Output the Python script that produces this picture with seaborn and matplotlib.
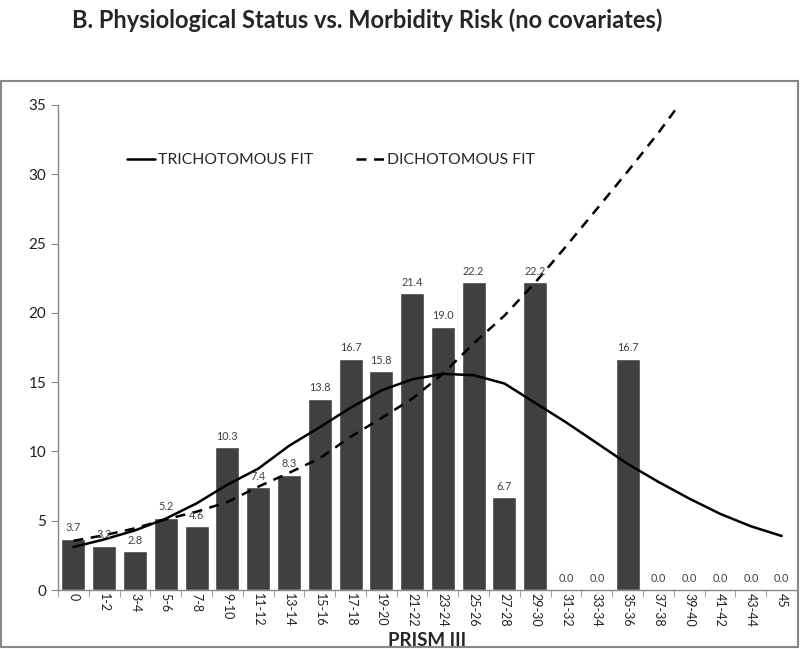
import numpy as np
import pandas as pd
import seaborn as sns
import matplotlib.pyplot as plt
from matplotlib.lines import Line2D
from matplotlib.patches import Rectangle

# PRISM III score groups
categories = ["0", "1-2", "3-4", "5-6", "7-8", "9-10", "11-12", "13-14", "15-16",
              "17-18", "19-20", "21-22", "23-24", "25-26", "27-28", "29-30", "31-32",
              "33-34", "35-36", "37-38", "39-40", "41-42", "43-44", "45"]

# observed morbidity (%)
observed = [3.7, 3.2, 2.8, 5.2, 4.6, 10.3, 7.4, 8.3, 13.8, 16.7, 15.8, 21.4,
            19.0, 22.2, 6.7, 22.2, 0.0, 0.0, 16.7, 0.0, 0.0, 0.0, 0.0, 0.0]

# fitted curves
trichotomous = [3.1, 3.65, 4.3, 5.15, 6.25, 7.6, 8.75, 10.4, 11.75, 13.15, 14.4, 15.2,
                15.6, 15.5, 14.9, 13.5, 12.1, 10.6, 9.1, 7.8, 6.6, 5.5, 4.6, 3.9]
dichotomous = [3.55, 3.95, 4.45, 5.1, 5.65, 6.35, 7.45, 8.45, 9.5, 11.05, 12.4, 13.8,
               15.6, 17.8, 19.8, 22.2, 24.8, 27.5, 30.2, 33.0, 36.0]

df = pd.DataFrame({"group": categories, "pct": observed})

sns.set_style("white")
plt.rcParams["font.family"] = ["Lato", "DejaVu Sans"]

fig = plt.figure(figsize=(8, 6.49), dpi=100)
ax = fig.add_axes([58 / 800, 59 / 649, 739 / 800, 485 / 649])

sns.barplot(data=df, x="group", y="pct", color="#404040", saturation=1,
            width=0.78, ax=ax)
ax.bar_label(ax.containers[0], fmt="%.1f", padding=4, fontsize=7.8, color="#404040")

pos = np.arange(len(categories))
sns.lineplot(x=pos, y=trichotomous, color="black", linewidth=1.8, ax=ax)
sns.lineplot(x=pos[:len(dichotomous)], y=dichotomous, color="black", linewidth=1.8,
             linestyle=(0, (4, 3)), ax=ax)

ax.set_ylim(0, 35)
ax.set_xlim(-0.5, len(categories) - 0.5)
ax.set_yticks(range(0, 36, 5))

# excel style ticks between categories
ax.set_xticks(np.arange(-0.5, len(categories), 1), minor=True)
ax.tick_params(axis="x", which="major", length=0, labelsize=9, labelrotation=270,
               pad=2, labelcolor="#222222")
ax.tick_params(axis="x", which="minor", length=5, color="#888888", direction="out",
               bottom=True)
ax.tick_params(axis="y", length=5, color="#888888", direction="out", left=True,
               labelsize=11, labelcolor="#222222")

for s in ["top", "right"]:
    ax.spines[s].set_visible(False)
for s in ["left", "bottom"]:
    ax.spines[s].set_color("#888888")
    ax.spines[s].set_linewidth(1)

ax.set_xlabel("PRISM III", fontsize=13.5, fontweight="bold")
ax.xaxis.label.set_va("center")
ax.xaxis.set_label_coords(0.5, -50 / 485)
ax.set_ylabel("")

handles = [Line2D([], [], color="black", linewidth=1.8),
           Line2D([], [], color="black", linewidth=1.8, linestyle=(0, (4, 3)))]
ax.legend(handles, ["TRICHOTOMOUS FIT", "DICHOTOMOUS FIT"], ncol=2, frameon=False,
          loc="upper left", bbox_to_anchor=(0.074, 0.93), fontsize=11.3,
          handlelength=1.8, handletextpad=0.2, columnspacing=2.7)

fig.text(72 / 800, 1 - 20 / 649, "B. Physiological Status vs. Morbidity Risk (no covariates)",
         fontsize=17, fontweight="bold", va="center", ha="left")

fig.patches.append(Rectangle((1 / 800, 2 / 649), 797 / 800, 566 / 649,
                             transform=fig.transFigure, fill=False,
                             edgecolor="#888888", linewidth=1.5))

plt.savefig("out.png", dpi=100)
